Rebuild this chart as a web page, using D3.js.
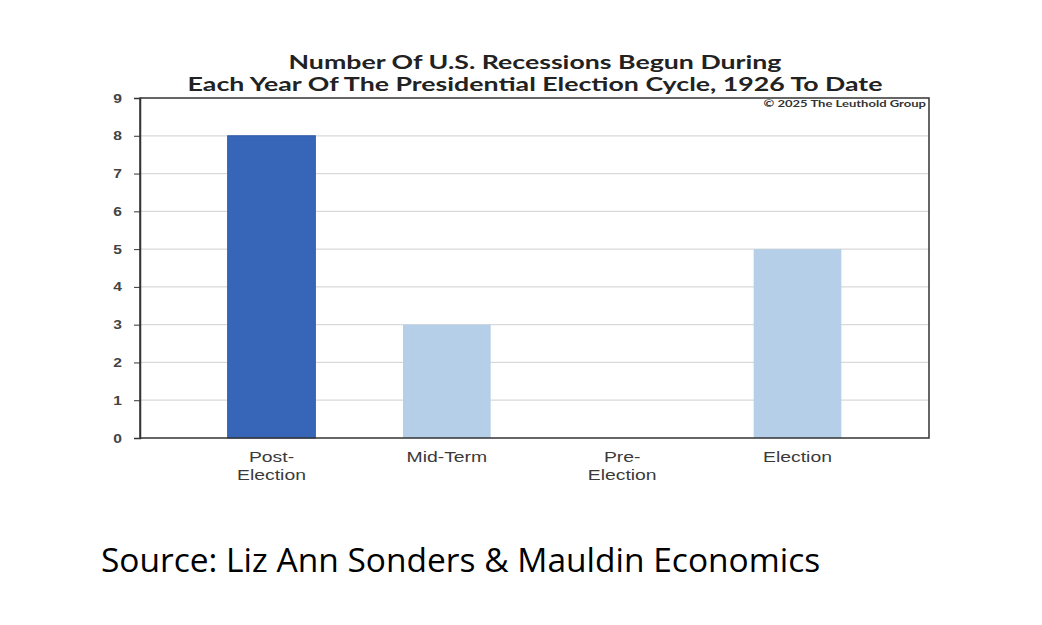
<!DOCTYPE html>
<html>
<head>
<meta charset="utf-8">
<script src="https://cdn.jsdelivr.net/npm/d3@7"></script>
<style>
  html, body { margin: 0; padding: 0; background: #fff; }
</style>
</head>
<body>
<div id="chart"></div>
<script>
// 数据
const categories = ['Post-Election', 'Mid-Term', 'Pre-Election', 'Election']
const labelLines = [['Post-', 'Election'], ['Mid-Term'], ['Pre-', 'Election'], ['Election']]
const recessions = [8, 3, 0, 5]
const highlight = [true, false, false, false]
const yTicks = [0, 1, 2, 3, 4, 5, 6, 7, 8, 9]
const titleLines = ['Number Of U.S. Recessions Begun During', 'Each Year Of The Presidential Election Cycle, 1926 To Date']

const W = 1042, H = 625
const plot = { left: 140, right: 929, top: 98, bottom: 438 }
// 原图被横向拉伸过，文字也跟着拉宽
const stretch = 1.25

const svg = d3.select('#chart').append('svg')
  .attr('width', W)
  .attr('height', H)
  .style('font-family', 'Liberation Sans, Arial, sans-serif')

const x = d3.scaleBand()
  .domain(categories)
  .range([plot.left, plot.right])
  .paddingInner(0.5)
  .paddingOuter(0.5)

const y = d3.scaleLinear()
  .domain([0, 9])
  .range([plot.bottom, plot.top])

// 网格线
svg.append('g')
  .selectAll('line')
  .data(yTicks.slice(1, -1))
  .join('line')
  .attr('x1', plot.left)
  .attr('x2', plot.right)
  .attr('y1', d => y(d))
  .attr('y2', d => y(d))
  .attr('stroke', '#d9d9d9')
  .attr('stroke-width', 1.2)

// 柱子
svg.append('g')
  .selectAll('rect')
  .data(categories)
  .join('rect')
  .attr('x', d => x(d))
  .attr('width', x.bandwidth())
  .attr('y', (d, i) => y(recessions[i]))
  .attr('height', (d, i) => y(0) - y(recessions[i]))
  .attr('fill', (d, i) => highlight[i] ? '#3766b8' : '#b5cfe8')
  .attr('stroke', (d, i) => highlight[i] ? '#2f5aa8' : 'none')
  .attr('stroke-width', 1)

// 外框
svg.append('rect')
  .attr('x', plot.left)
  .attr('y', plot.top)
  .attr('width', plot.right - plot.left)
  .attr('height', plot.bottom - plot.top)
  .attr('fill', 'none')
  .attr('stroke', '#333')
  .attr('stroke-width', 1.5)

// y 轴
const yAxis = svg.append('g')
  .attr('transform', `translate(${plot.left},0)`)
  .call(d3.axisLeft(y).tickValues(yTicks).tickSize(6).tickPadding(12))
yAxis.select('.domain').attr('stroke', '#333').attr('stroke-width', 1.5)
yAxis.selectAll('.tick line').attr('stroke', '#333')
yAxis.selectAll('text')
  .style('font-size', '12.5px')
  .style('font-weight', 'bold')
  .attr('fill', '#444')
  .attr('transform', `scale(${stretch},1)`)
  .attr('x', -18 / stretch)

// x 轴标签
const xLabels = svg.append('g')
  .selectAll('text')
  .data(categories)
  .join('text')
  .attr('transform', d => `translate(${x(d) + x.bandwidth() / 2},462) scale(${stretch},1)`)
  .attr('text-anchor', 'middle')
  .style('font-size', '15.5px')
  .attr('fill', '#3a3a3a')
xLabels.selectAll('tspan')
  .data((d, i) => labelLines[i])
  .join('tspan')
  .attr('x', 0)
  .attr('dy', (d, i) => i ? 18.5 : 0)
  .text(d => d)

// 标题
svg.append('g')
  .selectAll('text')
  .data(titleLines)
  .join('text')
  .attr('transform', (d, i) => `translate(535,${69 + i * 22}) scale(1.37,1)`)
  .attr('text-anchor', 'middle')
  .style('font-family', 'Lato, sans-serif')
  .style('font-size', '19.5px')
  .style('font-weight', 'bold')
  .attr('fill', '#222')
  .text(d => d)

svg.append('text')
  .attr('transform', 'translate(926,107) scale(1.45,1)')
  .attr('text-anchor', 'end')
  .style('font-family', 'Lato, sans-serif')
  .style('font-size', '9px')
  .style('font-weight', 'bold')
  .attr('fill', '#333')
  .text('© 2025 The Leuthold Group')

// 来源
svg.append('text')
  .attr('x', 101)
  .attr('y', 572)
  .style('font-family', 'Open Sans, sans-serif')
  .style('font-size', '33.5px')
  .attr('fill', '#000')
  .text('Source: Liz Ann Sonders & Mauldin Economics')
</script>
</body>
</html>
